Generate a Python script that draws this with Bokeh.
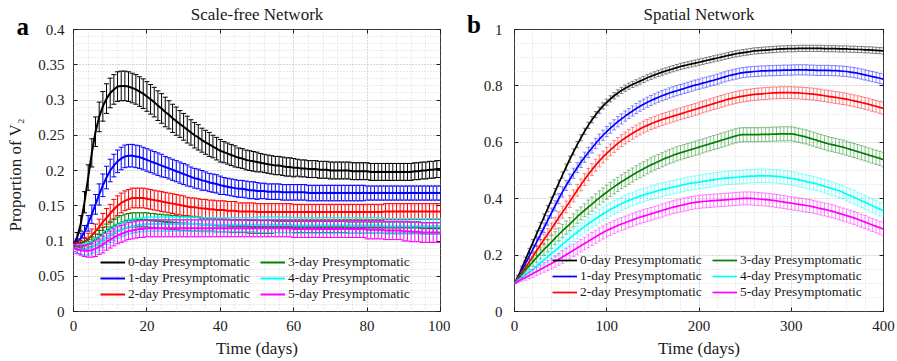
import math
from bokeh.plotting import figure
from bokeh.layouts import row
from bokeh.models import (Range1d, SingleIntervalTicker, NumeralTickFormatter, LinearAxis,
                          ColumnDataSource, Legend, LegendItem, Label)
from bokeh.embed import file_html
from bokeh.resources import INLINE

FONT = "Liberation Serif"
TXT = "#1a1a1a"

series_labels = ["0-day Presymptomatic", "1-day Presymptomatic", "2-day Presymptomatic",
                 "3-day Presymptomatic", "4-day Presymptomatic", "5-day Presymptomatic"]
series_colors = ["#000000", "#0000ff", "#ff0000", "#008000", "#00ffff", "#ff00ff"]

# ---------------- Panel a: Scale-free network (daily, 0..100) ----------------
left_days = list(range(0, 101))

left_mean_0 = [
    0.095, 0.105, 0.125, 0.155, 0.190, 0.225, 0.255, 0.276, 0.291, 0.302,
    0.310, 0.315, 0.319, 0.320, 0.320, 0.319, 0.317, 0.315, 0.312, 0.309,
    0.305, 0.301, 0.297, 0.292, 0.288, 0.283, 0.279, 0.274, 0.270, 0.266,
    0.262, 0.258, 0.254, 0.250, 0.247, 0.243, 0.240, 0.237, 0.234, 0.231,
    0.228, 0.226, 0.224, 0.222, 0.220, 0.218, 0.217, 0.215, 0.214, 0.213,
    0.212, 0.211, 0.210, 0.209, 0.208, 0.207, 0.207, 0.206, 0.205, 0.205,
    0.204, 0.204, 0.203, 0.203, 0.202, 0.202, 0.202, 0.201, 0.201, 0.201,
    0.200, 0.200, 0.200, 0.200, 0.200, 0.200, 0.199, 0.199, 0.199, 0.199,
    0.199, 0.198, 0.198, 0.198, 0.198, 0.198, 0.198, 0.198, 0.198, 0.198,
    0.198, 0.198, 0.198, 0.199, 0.199, 0.200, 0.200, 0.201, 0.201, 0.202,
    0.202]
left_err_0 = [
    0.004, 0.007, 0.011, 0.015, 0.018, 0.020, 0.021, 0.021, 0.021, 0.021,
    0.021, 0.021, 0.021, 0.021, 0.021, 0.021, 0.021, 0.021, 0.021, 0.021,
    0.021, 0.021, 0.021, 0.021, 0.021, 0.021, 0.020, 0.020, 0.020, 0.019,
    0.019, 0.019, 0.018, 0.018, 0.018, 0.017, 0.017, 0.017, 0.016, 0.016,
    0.016, 0.015, 0.015, 0.015, 0.015, 0.014, 0.014, 0.014, 0.014, 0.014,
    0.014, 0.013, 0.013, 0.013, 0.013, 0.013, 0.013, 0.013, 0.013, 0.013,
    0.013, 0.012, 0.012, 0.012, 0.012, 0.012, 0.012, 0.012, 0.012, 0.012,
    0.012, 0.012, 0.012, 0.012, 0.012, 0.012, 0.012, 0.012, 0.012, 0.012,
    0.012, 0.012, 0.012, 0.012, 0.012, 0.012, 0.012, 0.012, 0.012, 0.012,
    0.012, 0.012, 0.012, 0.012, 0.012, 0.012, 0.012, 0.012, 0.012, 0.012,
    0.012]

left_mean_1 = [
    0.095, 0.098, 0.104, 0.113, 0.125, 0.138, 0.152, 0.166, 0.179, 0.190,
    0.200, 0.207, 0.213, 0.217, 0.220, 0.221, 0.221, 0.220, 0.219, 0.217,
    0.215, 0.213, 0.211, 0.209, 0.207, 0.205, 0.203, 0.201, 0.199, 0.197,
    0.195, 0.193, 0.191, 0.189, 0.188, 0.186, 0.185, 0.183, 0.182, 0.181,
    0.179, 0.178, 0.177, 0.176, 0.175, 0.174, 0.174, 0.173, 0.172, 0.172,
    0.171, 0.171, 0.171, 0.170, 0.170, 0.170, 0.170, 0.169, 0.169, 0.169,
    0.169, 0.169, 0.169, 0.169, 0.168, 0.168, 0.168, 0.168, 0.168, 0.168,
    0.168, 0.168, 0.168, 0.168, 0.168, 0.168, 0.168, 0.168, 0.168, 0.168,
    0.168, 0.168, 0.168, 0.168, 0.168, 0.168, 0.168, 0.168, 0.168, 0.168,
    0.168, 0.168, 0.168, 0.168, 0.168, 0.168, 0.168, 0.168, 0.168, 0.168,
    0.168]
left_err_1 = [
    0.003, 0.005, 0.007, 0.009, 0.011, 0.013, 0.014, 0.015, 0.016, 0.016,
    0.016, 0.016, 0.016, 0.016, 0.016, 0.016, 0.016, 0.016, 0.016, 0.016,
    0.016, 0.016, 0.016, 0.016, 0.016, 0.015, 0.015, 0.015, 0.015, 0.015,
    0.015, 0.015, 0.014, 0.014, 0.014, 0.014, 0.013, 0.013, 0.013, 0.013,
    0.013, 0.012, 0.012, 0.012, 0.012, 0.012, 0.012, 0.012, 0.012, 0.012,
    0.012, 0.011, 0.011, 0.011, 0.011, 0.011, 0.011, 0.011, 0.011, 0.011,
    0.011, 0.011, 0.011, 0.011, 0.011, 0.011, 0.011, 0.011, 0.011, 0.011,
    0.011, 0.011, 0.011, 0.011, 0.011, 0.011, 0.011, 0.011, 0.011, 0.011,
    0.010, 0.010, 0.010, 0.010, 0.010, 0.010, 0.010, 0.010, 0.010, 0.010,
    0.010, 0.010, 0.010, 0.010, 0.010, 0.010, 0.010, 0.010, 0.010, 0.010,
    0.010]

left_mean_2 = [
    0.093, 0.094, 0.096, 0.099, 0.103, 0.108, 0.114, 0.120, 0.127, 0.133,
    0.139, 0.145, 0.150, 0.154, 0.157, 0.159, 0.161, 0.161, 0.161, 0.161,
    0.160, 0.159, 0.158, 0.157, 0.156, 0.155, 0.154, 0.153, 0.152, 0.151,
    0.150, 0.149, 0.148, 0.148, 0.147, 0.146, 0.146, 0.145, 0.145, 0.144,
    0.144, 0.144, 0.143, 0.143, 0.143, 0.142, 0.142, 0.142, 0.142, 0.142,
    0.141, 0.141, 0.141, 0.141, 0.141, 0.141, 0.141, 0.141, 0.141, 0.141,
    0.141, 0.141, 0.141, 0.141, 0.141, 0.141, 0.141, 0.141, 0.141, 0.141,
    0.141, 0.141, 0.141, 0.141, 0.141, 0.141, 0.141, 0.141, 0.141, 0.141,
    0.141, 0.141, 0.141, 0.141, 0.141, 0.142, 0.142, 0.142, 0.142, 0.142,
    0.142, 0.142, 0.142, 0.142, 0.142, 0.142, 0.142, 0.142, 0.142, 0.142,
    0.142]
left_err_2 = [
    0.003, 0.004, 0.005, 0.006, 0.008, 0.009, 0.010, 0.011, 0.012, 0.013,
    0.013, 0.014, 0.014, 0.014, 0.014, 0.014, 0.014, 0.014, 0.014, 0.014,
    0.014, 0.014, 0.014, 0.014, 0.014, 0.014, 0.014, 0.014, 0.014, 0.014,
    0.014, 0.013, 0.013, 0.013, 0.013, 0.013, 0.013, 0.013, 0.013, 0.013,
    0.013, 0.013, 0.013, 0.013, 0.013, 0.012, 0.012, 0.012, 0.012, 0.012,
    0.012, 0.012, 0.012, 0.012, 0.012, 0.012, 0.012, 0.012, 0.012, 0.012,
    0.011, 0.011, 0.011, 0.011, 0.011, 0.011, 0.011, 0.011, 0.011, 0.011,
    0.011, 0.011, 0.011, 0.011, 0.011, 0.011, 0.011, 0.011, 0.011, 0.011,
    0.011, 0.011, 0.011, 0.011, 0.011, 0.011, 0.011, 0.011, 0.011, 0.011,
    0.011, 0.011, 0.011, 0.011, 0.011, 0.011, 0.011, 0.011, 0.011, 0.011,
    0.011]

left_mean_3 = [
    0.092, 0.092, 0.093, 0.094, 0.096, 0.099, 0.102, 0.106, 0.110, 0.114,
    0.118, 0.121, 0.124, 0.126, 0.128, 0.129, 0.130, 0.130, 0.130, 0.130,
    0.130, 0.129, 0.129, 0.128, 0.128, 0.127, 0.127, 0.126, 0.126, 0.125,
    0.125, 0.125, 0.124, 0.124, 0.124, 0.123, 0.123, 0.123, 0.123, 0.122,
    0.122, 0.122, 0.122, 0.121, 0.121, 0.121, 0.121, 0.121, 0.120, 0.120,
    0.120, 0.120, 0.120, 0.120, 0.120, 0.120, 0.120, 0.120, 0.120, 0.120,
    0.120, 0.120, 0.120, 0.120, 0.120, 0.120, 0.120, 0.120, 0.120, 0.120,
    0.120, 0.120, 0.120, 0.120, 0.120, 0.119, 0.119, 0.119, 0.119, 0.119,
    0.119, 0.119, 0.119, 0.119, 0.119, 0.119, 0.119, 0.119, 0.119, 0.119,
    0.119, 0.119, 0.119, 0.119, 0.119, 0.118, 0.118, 0.118, 0.118, 0.118,
    0.118]
left_err_3 = [
    0.003, 0.003, 0.004, 0.005, 0.006, 0.007, 0.008, 0.009, 0.009, 0.010,
    0.010, 0.010, 0.010, 0.010, 0.010, 0.010, 0.010, 0.010, 0.010, 0.010,
    0.010, 0.010, 0.010, 0.010, 0.010, 0.010, 0.010, 0.010, 0.010, 0.010,
    0.010, 0.010, 0.010, 0.010, 0.010, 0.009, 0.009, 0.009, 0.009, 0.009,
    0.009, 0.009, 0.009, 0.009, 0.009, 0.009, 0.009, 0.009, 0.009, 0.009,
    0.009, 0.009, 0.009, 0.009, 0.009, 0.008, 0.008, 0.008, 0.008, 0.008,
    0.008, 0.008, 0.008, 0.008, 0.008, 0.008, 0.008, 0.008, 0.008, 0.008,
    0.008, 0.008, 0.008, 0.008, 0.008, 0.008, 0.008, 0.008, 0.008, 0.008,
    0.008, 0.008, 0.008, 0.008, 0.008, 0.008, 0.008, 0.008, 0.008, 0.008,
    0.008, 0.008, 0.008, 0.008, 0.008, 0.008, 0.008, 0.008, 0.008, 0.008,
    0.008]

left_mean_4 = [
    0.090, 0.089, 0.088, 0.088, 0.089, 0.091, 0.094, 0.097, 0.101, 0.105,
    0.108, 0.111, 0.114, 0.116, 0.118, 0.120, 0.121, 0.122, 0.123, 0.123,
    0.124, 0.124, 0.124, 0.124, 0.124, 0.124, 0.124, 0.124, 0.124, 0.124,
    0.124, 0.124, 0.124, 0.124, 0.124, 0.123, 0.123, 0.123, 0.123, 0.123,
    0.123, 0.123, 0.123, 0.123, 0.123, 0.123, 0.123, 0.123, 0.123, 0.123,
    0.123, 0.123, 0.123, 0.123, 0.123, 0.123, 0.123, 0.123, 0.123, 0.123,
    0.122, 0.122, 0.122, 0.122, 0.122, 0.122, 0.122, 0.122, 0.122, 0.122,
    0.122, 0.122, 0.122, 0.122, 0.122, 0.122, 0.122, 0.122, 0.122, 0.122,
    0.122, 0.122, 0.122, 0.122, 0.122, 0.121, 0.121, 0.121, 0.121, 0.121,
    0.121, 0.121, 0.121, 0.121, 0.121, 0.121, 0.121, 0.121, 0.121, 0.121,
    0.121]
left_err_4 = [
    0.005, 0.006, 0.007, 0.008, 0.009, 0.009, 0.010, 0.010, 0.010, 0.010,
    0.010, 0.010, 0.010, 0.010, 0.010, 0.010, 0.010, 0.010, 0.010, 0.010,
    0.010, 0.010, 0.010, 0.010, 0.010, 0.010, 0.010, 0.010, 0.010, 0.010,
    0.010, 0.010, 0.010, 0.010, 0.010, 0.010, 0.010, 0.010, 0.010, 0.010,
    0.010, 0.010, 0.010, 0.010, 0.010, 0.010, 0.010, 0.010, 0.010, 0.010,
    0.011, 0.011, 0.011, 0.011, 0.011, 0.011, 0.011, 0.011, 0.011, 0.011,
    0.011, 0.011, 0.011, 0.011, 0.011, 0.011, 0.011, 0.011, 0.011, 0.011,
    0.011, 0.011, 0.011, 0.011, 0.011, 0.011, 0.011, 0.011, 0.011, 0.011,
    0.011, 0.011, 0.011, 0.011, 0.011, 0.011, 0.011, 0.011, 0.011, 0.011,
    0.011, 0.011, 0.011, 0.011, 0.011, 0.011, 0.011, 0.011, 0.011, 0.011,
    0.011]

left_mean_5 = [
    0.090, 0.088, 0.087, 0.086, 0.086, 0.087, 0.089, 0.092, 0.095, 0.099,
    0.102, 0.105, 0.108, 0.110, 0.112, 0.114, 0.115, 0.116, 0.117, 0.117,
    0.118, 0.118, 0.118, 0.118, 0.118, 0.118, 0.118, 0.118, 0.118, 0.118,
    0.118, 0.118, 0.118, 0.118, 0.118, 0.118, 0.118, 0.118, 0.118, 0.118,
    0.118, 0.118, 0.118, 0.118, 0.118, 0.118, 0.118, 0.118, 0.118, 0.118,
    0.118, 0.118, 0.118, 0.118, 0.118, 0.118, 0.118, 0.118, 0.118, 0.118,
    0.117, 0.117, 0.117, 0.117, 0.117, 0.117, 0.117, 0.117, 0.117, 0.117,
    0.117, 0.117, 0.117, 0.117, 0.117, 0.117, 0.117, 0.117, 0.117, 0.117,
    0.116, 0.116, 0.116, 0.116, 0.116, 0.115, 0.115, 0.115, 0.115, 0.115,
    0.114, 0.114, 0.113, 0.113, 0.113, 0.112, 0.112, 0.112, 0.112, 0.112,
    0.112]
left_err_5 = [
    0.005, 0.006, 0.007, 0.008, 0.009, 0.010, 0.011, 0.011, 0.012, 0.012,
    0.012, 0.012, 0.012, 0.012, 0.012, 0.012, 0.012, 0.012, 0.012, 0.012,
    0.012, 0.012, 0.012, 0.012, 0.012, 0.012, 0.012, 0.012, 0.012, 0.012,
    0.012, 0.012, 0.012, 0.012, 0.012, 0.012, 0.012, 0.012, 0.012, 0.012,
    0.012, 0.012, 0.012, 0.012, 0.012, 0.012, 0.012, 0.012, 0.012, 0.012,
    0.012, 0.012, 0.012, 0.012, 0.012, 0.012, 0.012, 0.012, 0.012, 0.012,
    0.012, 0.012, 0.012, 0.012, 0.012, 0.012, 0.012, 0.012, 0.012, 0.012,
    0.012, 0.012, 0.012, 0.012, 0.012, 0.012, 0.012, 0.012, 0.012, 0.012,
    0.013, 0.013, 0.013, 0.013, 0.013, 0.013, 0.013, 0.013, 0.013, 0.013,
    0.014, 0.014, 0.014, 0.014, 0.014, 0.014, 0.014, 0.014, 0.014, 0.014,
    0.014]

# ---------------- Panel b: Spatial network (every 4 days, 0..400) ----------------
right_days = list(range(0, 401, 4))

right_mean_0 = [
    0.100, 0.125, 0.155, 0.185, 0.215, 0.245, 0.275, 0.305, 0.335, 0.365,
    0.395, 0.425, 0.455, 0.484, 0.512, 0.540, 0.566, 0.592, 0.616, 0.639,
    0.660, 0.680, 0.698, 0.714, 0.729, 0.742, 0.754, 0.765, 0.775, 0.784,
    0.792, 0.799, 0.805, 0.811, 0.817, 0.823, 0.829, 0.834, 0.839, 0.844,
    0.849, 0.853, 0.857, 0.861, 0.865, 0.869, 0.872, 0.875, 0.878, 0.881,
    0.884, 0.887, 0.890, 0.893, 0.896, 0.899, 0.902, 0.905, 0.908, 0.911,
    0.914, 0.916, 0.918, 0.920, 0.922, 0.924, 0.925, 0.926, 0.927, 0.928,
    0.929, 0.930, 0.931, 0.931, 0.932, 0.932, 0.932, 0.933, 0.933, 0.933,
    0.933, 0.933, 0.933, 0.933, 0.932, 0.932, 0.932, 0.932, 0.931, 0.931,
    0.931, 0.930, 0.930, 0.929, 0.929, 0.928, 0.928, 0.927, 0.926, 0.925,
    0.924]
right_err_0 = [
    0.000, 0.004, 0.006, 0.008, 0.009, 0.010, 0.011, 0.011, 0.011, 0.011,
    0.011, 0.011, 0.011, 0.011, 0.011, 0.011, 0.011, 0.011, 0.011, 0.011,
    0.011, 0.011, 0.011, 0.011, 0.011, 0.011, 0.011, 0.011, 0.011, 0.011,
    0.011, 0.011, 0.011, 0.011, 0.011, 0.011, 0.011, 0.011, 0.011, 0.011,
    0.011, 0.011, 0.011, 0.011, 0.011, 0.011, 0.011, 0.011, 0.011, 0.011,
    0.011, 0.011, 0.011, 0.011, 0.011, 0.011, 0.011, 0.011, 0.011, 0.011,
    0.011, 0.011, 0.011, 0.011, 0.011, 0.011, 0.011, 0.011, 0.011, 0.011,
    0.011, 0.011, 0.011, 0.011, 0.011, 0.011, 0.011, 0.011, 0.011, 0.011,
    0.011, 0.011, 0.011, 0.011, 0.011, 0.011, 0.011, 0.011, 0.011, 0.011,
    0.011, 0.011, 0.011, 0.011, 0.011, 0.011, 0.011, 0.011, 0.011, 0.011,
    0.011]

right_mean_1 = [
    0.100, 0.122, 0.146, 0.171, 0.196, 0.221, 0.246, 0.271, 0.297, 0.323,
    0.349, 0.375, 0.400, 0.424, 0.447, 0.469, 0.490, 0.510, 0.529, 0.547,
    0.564, 0.580, 0.596, 0.611, 0.625, 0.638, 0.650, 0.662, 0.673, 0.683,
    0.693, 0.702, 0.711, 0.720, 0.728, 0.735, 0.742, 0.748, 0.754, 0.760,
    0.765, 0.770, 0.775, 0.779, 0.783, 0.787, 0.791, 0.795, 0.799, 0.803,
    0.806, 0.810, 0.813, 0.817, 0.820, 0.824, 0.828, 0.832, 0.836, 0.839,
    0.842, 0.845, 0.847, 0.849, 0.850, 0.851, 0.852, 0.853, 0.853, 0.854,
    0.854, 0.855, 0.855, 0.856, 0.856, 0.856, 0.857, 0.857, 0.857, 0.857,
    0.856, 0.856, 0.855, 0.855, 0.855, 0.855, 0.854, 0.854, 0.853, 0.852,
    0.851, 0.849, 0.847, 0.845, 0.842, 0.839, 0.836, 0.833, 0.830, 0.827,
    0.824]
right_err_1 = [
    0.000, 0.005, 0.008, 0.010, 0.012, 0.014, 0.015, 0.016, 0.017, 0.017,
    0.018, 0.018, 0.018, 0.018, 0.018, 0.018, 0.018, 0.018, 0.018, 0.018,
    0.018, 0.018, 0.018, 0.018, 0.018, 0.018, 0.018, 0.018, 0.018, 0.018,
    0.018, 0.018, 0.018, 0.018, 0.018, 0.018, 0.018, 0.018, 0.018, 0.018,
    0.018, 0.018, 0.018, 0.018, 0.018, 0.018, 0.018, 0.018, 0.018, 0.018,
    0.018, 0.018, 0.018, 0.018, 0.018, 0.018, 0.018, 0.018, 0.018, 0.018,
    0.018, 0.018, 0.018, 0.018, 0.018, 0.018, 0.018, 0.018, 0.018, 0.018,
    0.018, 0.018, 0.018, 0.018, 0.018, 0.018, 0.018, 0.018, 0.018, 0.018,
    0.018, 0.018, 0.018, 0.018, 0.018, 0.018, 0.018, 0.018, 0.018, 0.018,
    0.018, 0.018, 0.018, 0.018, 0.018, 0.018, 0.018, 0.018, 0.018, 0.018,
    0.018]

right_mean_2 = [
    0.100, 0.118, 0.137, 0.156, 0.176, 0.196, 0.216, 0.236, 0.255, 0.274,
    0.293, 0.313, 0.333, 0.352, 0.371, 0.390, 0.410, 0.430, 0.449, 0.468,
    0.486, 0.503, 0.519, 0.534, 0.548, 0.561, 0.573, 0.585, 0.596, 0.606,
    0.615, 0.624, 0.632, 0.640, 0.647, 0.654, 0.660, 0.666, 0.671, 0.676,
    0.681, 0.685, 0.689, 0.693, 0.697, 0.701, 0.705, 0.709, 0.713, 0.717,
    0.721, 0.725, 0.729, 0.733, 0.737, 0.741, 0.745, 0.749, 0.753, 0.756,
    0.759, 0.762, 0.764, 0.766, 0.768, 0.770, 0.771, 0.772, 0.773, 0.774,
    0.775, 0.775, 0.776, 0.776, 0.776, 0.776, 0.775, 0.775, 0.774, 0.773,
    0.772, 0.771, 0.769, 0.767, 0.765, 0.763, 0.761, 0.759, 0.757, 0.755,
    0.753, 0.750, 0.747, 0.744, 0.741, 0.738, 0.735, 0.731, 0.728, 0.724,
    0.720]
right_err_2 = [
    0.000, 0.005, 0.009, 0.012, 0.014, 0.016, 0.017, 0.018, 0.019, 0.020,
    0.021, 0.021, 0.021, 0.021, 0.021, 0.021, 0.021, 0.021, 0.021, 0.021,
    0.021, 0.021, 0.021, 0.021, 0.021, 0.021, 0.021, 0.021, 0.021, 0.021,
    0.021, 0.021, 0.021, 0.021, 0.021, 0.021, 0.021, 0.021, 0.021, 0.021,
    0.021, 0.021, 0.021, 0.021, 0.021, 0.021, 0.021, 0.021, 0.021, 0.021,
    0.021, 0.021, 0.021, 0.021, 0.021, 0.021, 0.021, 0.021, 0.021, 0.021,
    0.021, 0.021, 0.021, 0.021, 0.021, 0.021, 0.021, 0.021, 0.021, 0.021,
    0.021, 0.021, 0.021, 0.021, 0.021, 0.021, 0.021, 0.021, 0.021, 0.021,
    0.021, 0.021, 0.021, 0.021, 0.021, 0.021, 0.021, 0.021, 0.021, 0.021,
    0.021, 0.021, 0.021, 0.021, 0.021, 0.021, 0.021, 0.021, 0.021, 0.021,
    0.021]

right_mean_3 = [
    0.100, 0.115, 0.131, 0.147, 0.162, 0.177, 0.192, 0.206, 0.220, 0.233,
    0.246, 0.260, 0.273, 0.286, 0.298, 0.310, 0.323, 0.336, 0.348, 0.359,
    0.370, 0.381, 0.392, 0.403, 0.413, 0.423, 0.433, 0.442, 0.451, 0.460,
    0.468, 0.476, 0.484, 0.492, 0.499, 0.506, 0.513, 0.520, 0.526, 0.532,
    0.538, 0.544, 0.549, 0.554, 0.559, 0.563, 0.567, 0.571, 0.575, 0.579,
    0.583, 0.587, 0.591, 0.595, 0.599, 0.603, 0.607, 0.611, 0.615, 0.619,
    0.623, 0.626, 0.627, 0.627, 0.627, 0.627, 0.627, 0.628, 0.628, 0.628,
    0.629, 0.629, 0.630, 0.630, 0.630, 0.630, 0.628, 0.625, 0.622, 0.619,
    0.615, 0.611, 0.607, 0.603, 0.599, 0.595, 0.592, 0.589, 0.586, 0.583,
    0.579, 0.575, 0.571, 0.567, 0.563, 0.559, 0.555, 0.551, 0.547, 0.543,
    0.538]
right_err_3 = [
    0.000, 0.005, 0.009, 0.012, 0.015, 0.017, 0.019, 0.020, 0.021, 0.022,
    0.023, 0.023, 0.023, 0.023, 0.023, 0.023, 0.023, 0.023, 0.023, 0.023,
    0.025, 0.025, 0.025, 0.025, 0.025, 0.025, 0.025, 0.025, 0.025, 0.025,
    0.025, 0.025, 0.025, 0.025, 0.025, 0.025, 0.025, 0.025, 0.025, 0.025,
    0.025, 0.025, 0.025, 0.025, 0.025, 0.025, 0.025, 0.025, 0.025, 0.025,
    0.025, 0.025, 0.025, 0.025, 0.025, 0.025, 0.025, 0.025, 0.025, 0.025,
    0.025, 0.025, 0.025, 0.025, 0.025, 0.025, 0.025, 0.025, 0.025, 0.025,
    0.025, 0.025, 0.025, 0.025, 0.025, 0.025, 0.025, 0.025, 0.025, 0.025,
    0.025, 0.025, 0.025, 0.025, 0.025, 0.025, 0.025, 0.025, 0.025, 0.025,
    0.025, 0.025, 0.025, 0.025, 0.025, 0.025, 0.025, 0.025, 0.025, 0.025,
    0.025]

right_mean_4 = [
    0.100, 0.110, 0.120, 0.130, 0.140, 0.150, 0.161, 0.172, 0.183, 0.194,
    0.205, 0.216, 0.227, 0.238, 0.249, 0.260, 0.271, 0.281, 0.291, 0.301,
    0.311, 0.320, 0.329, 0.338, 0.346, 0.354, 0.362, 0.369, 0.376, 0.382,
    0.388, 0.394, 0.399, 0.404, 0.409, 0.413, 0.417, 0.421, 0.425, 0.429,
    0.432, 0.435, 0.438, 0.441, 0.444, 0.447, 0.450, 0.453, 0.455, 0.457,
    0.459, 0.461, 0.463, 0.465, 0.467, 0.469, 0.471, 0.473, 0.474, 0.475,
    0.476, 0.477, 0.478, 0.479, 0.480, 0.480, 0.481, 0.481, 0.481, 0.481,
    0.480, 0.479, 0.478, 0.476, 0.474, 0.472, 0.470, 0.467, 0.464, 0.461,
    0.458, 0.455, 0.452, 0.448, 0.444, 0.440, 0.436, 0.432, 0.428, 0.423,
    0.416, 0.411, 0.405, 0.399, 0.393, 0.387, 0.381, 0.375, 0.369, 0.363,
    0.357]
right_err_4 = [
    0.000, 0.004, 0.008, 0.011, 0.013, 0.015, 0.017, 0.018, 0.019, 0.020,
    0.021, 0.022, 0.023, 0.023, 0.023, 0.023, 0.023, 0.023, 0.023, 0.023,
    0.024, 0.024, 0.024, 0.024, 0.024, 0.024, 0.024, 0.024, 0.024, 0.024,
    0.024, 0.024, 0.024, 0.024, 0.024, 0.024, 0.024, 0.024, 0.024, 0.024,
    0.024, 0.024, 0.024, 0.024, 0.024, 0.024, 0.024, 0.024, 0.024, 0.024,
    0.024, 0.024, 0.024, 0.024, 0.024, 0.024, 0.024, 0.024, 0.024, 0.024,
    0.024, 0.024, 0.024, 0.024, 0.024, 0.024, 0.024, 0.024, 0.024, 0.024,
    0.024, 0.024, 0.024, 0.024, 0.024, 0.024, 0.024, 0.024, 0.024, 0.024,
    0.024, 0.024, 0.024, 0.024, 0.024, 0.024, 0.024, 0.024, 0.024, 0.024,
    0.024, 0.024, 0.024, 0.024, 0.024, 0.024, 0.024, 0.024, 0.024, 0.024,
    0.024]

right_mean_5 = [
    0.100, 0.107, 0.114, 0.121, 0.128, 0.135, 0.142, 0.149, 0.156, 0.163,
    0.170, 0.177, 0.185, 0.193, 0.201, 0.209, 0.217, 0.225, 0.233, 0.241,
    0.249, 0.257, 0.265, 0.273, 0.280, 0.287, 0.293, 0.299, 0.305, 0.310,
    0.315, 0.320, 0.325, 0.330, 0.334, 0.338, 0.342, 0.346, 0.350, 0.354,
    0.358, 0.362, 0.366, 0.370, 0.373, 0.376, 0.379, 0.382, 0.385, 0.387,
    0.389, 0.390, 0.391, 0.392, 0.393, 0.394, 0.395, 0.396, 0.397, 0.398,
    0.399, 0.400, 0.401, 0.401, 0.401, 0.400, 0.399, 0.398, 0.397, 0.396,
    0.394, 0.392, 0.390, 0.388, 0.386, 0.384, 0.382, 0.380, 0.378, 0.376,
    0.374, 0.371, 0.368, 0.365, 0.362, 0.359, 0.356, 0.352, 0.348, 0.344,
    0.340, 0.336, 0.332, 0.327, 0.322, 0.317, 0.312, 0.307, 0.302, 0.297,
    0.292]
right_err_5 = [
    0.000, 0.004, 0.007, 0.010, 0.012, 0.014, 0.015, 0.016, 0.017, 0.018,
    0.019, 0.020, 0.021, 0.022, 0.022, 0.022, 0.022, 0.022, 0.022, 0.022,
    0.023, 0.023, 0.023, 0.023, 0.023, 0.023, 0.023, 0.023, 0.023, 0.023,
    0.023, 0.023, 0.023, 0.023, 0.023, 0.023, 0.023, 0.023, 0.023, 0.023,
    0.023, 0.023, 0.023, 0.023, 0.023, 0.023, 0.023, 0.023, 0.023, 0.023,
    0.023, 0.023, 0.023, 0.023, 0.023, 0.023, 0.023, 0.023, 0.023, 0.023,
    0.023, 0.023, 0.023, 0.023, 0.023, 0.023, 0.023, 0.023, 0.023, 0.023,
    0.023, 0.023, 0.023, 0.023, 0.023, 0.023, 0.023, 0.023, 0.023, 0.023,
    0.023, 0.023, 0.023, 0.023, 0.023, 0.023, 0.023, 0.023, 0.023, 0.023,
    0.023, 0.023, 0.023, 0.023, 0.023, 0.023, 0.023, 0.023, 0.023, 0.023,
    0.023]

left_means = [left_mean_0, left_mean_1, left_mean_2, left_mean_3, left_mean_4, left_mean_5]
left_errs = [left_err_0, left_err_1, left_err_2, left_err_3, left_err_4, left_err_5]
right_means = [right_mean_0, right_mean_1, right_mean_2, right_mean_3, right_mean_4, right_mean_5]
right_errs = [right_err_0, right_err_1, right_err_2, right_err_3, right_err_4, right_err_5]


def build_panel(title, days, means, errs, x_end, y_end, x_int, y_int, y_minor, y_fmt,
                width, borders, legend_loc, bar_alpha, cap, line_w, panel_letter,
                letter_data, y_label=None, y_label_data=None, y_standoff=6):
    left, right, top, bottom = borders
    p = figure(width=width, height=361, x_range=Range1d(0, x_end), y_range=Range1d(0, y_end),
               output_backend="svg", toolbar_location=None, title=title,
               min_border_left=left, min_border_right=right,
               min_border_top=top, min_border_bottom=bottom)
    p.background_fill_color = "white"
    p.border_fill_color = "white"
    p.outline_line_color = "#3a3a3a"
    p.outline_line_width = 1

    p.title.text_font = FONT
    p.title.text_font_size = "17px"
    p.title.text_font_style = "normal"
    p.title.text_color = TXT
    p.title.align = "center"
    p.title.standoff = 4

    xt = SingleIntervalTicker(interval=x_int, num_minor_ticks=5)
    yt = SingleIntervalTicker(interval=y_int, num_minor_ticks=y_minor)
    p.xaxis.ticker = xt
    p.yaxis.ticker = yt
    p.xgrid.ticker = xt
    p.ygrid.ticker = yt
    p.yaxis.formatter = NumeralTickFormatter(format=y_fmt)

    for ax in (p.xaxis[0], p.yaxis[0]):
        ax.axis_line_color = None
        ax.major_tick_in = 4
        ax.major_tick_out = 0
        ax.major_tick_line_color = TXT
        ax.minor_tick_line_color = None
        ax.major_label_text_font = FONT
        ax.major_label_text_font_size = "15px"
        ax.major_label_text_color = TXT
        ax.axis_label_text_font = FONT
        ax.axis_label_text_font_size = "17px"
        ax.axis_label_text_font_style = "normal"
        ax.axis_label_text_color = TXT
    p.xaxis.axis_label = "Time (days)"
    p.xaxis.major_label_standoff = 5
    p.xaxis.axis_label_standoff = 5
    p.yaxis.major_label_standoff = y_standoff

    # tick marks on the top and right edges of the box (no labels)
    top_ax = LinearAxis(ticker=xt, axis_line_color=None, major_tick_in=4, major_tick_out=0,
                        major_tick_line_color=TXT, minor_tick_line_color=None,
                        major_label_text_font_size="1px", major_label_text_color=None,
                        major_label_standoff=0)
    right_ax = LinearAxis(ticker=yt, axis_line_color=None, major_tick_in=4, major_tick_out=0,
                          major_tick_line_color=TXT, minor_tick_line_color=None,
                          major_label_text_font_size="1px", major_label_text_color=None,
                          major_label_standoff=0)
    p.add_layout(top_ax, "above")
    p.add_layout(right_ax, "right")

    for g in (p.xgrid[0], p.ygrid[0]):
        g.grid_line_color = "#c4c4c4"
        g.grid_line_dash = "1 2"
        g.grid_line_width = 1
        g.minor_grid_line_color = "#d6d6d6"
        g.minor_grid_line_dash = "1 2"
        g.minor_grid_line_width = 1

    items = []
    for m, e, c, lab in zip(means, errs, series_colors, series_labels):
        up = [a + b for a, b in zip(m, e)]
        lo = [a - b for a, b in zip(m, e)]
        src = ColumnDataSource(dict(x=days, m=m, up=up, lo=lo))
        p.segment(x0="x", y0="lo", x1="x", y1="up", source=src, line_color=c,
                  line_width=1, line_alpha=bar_alpha)
        p.scatter(x="x", y="up", marker="dash", size=cap, source=src, line_color=c,
                  line_width=1, line_alpha=bar_alpha)
        p.scatter(x="x", y="lo", marker="dash", size=cap, source=src, line_color=c,
                  line_width=1, line_alpha=bar_alpha)
        mean_line = p.line(x="x", y="m", source=src, line_color=c, line_width=line_w)
        items.append(LegendItem(label=lab, renderers=[mean_line]))

    leg = Legend(items=items, location=legend_loc, orientation="vertical", ncols=2,
                 padding=0, margin=0, spacing=0, glyph_width=25, glyph_height=16,
                 label_height=16, label_width=132, label_standoff=3,
                 border_line_color=None, background_fill_alpha=0,
                 label_text_font=FONT, label_text_font_size="13.5px", label_text_color=TXT)
    p.add_layout(leg)

    # texts outside the frame live in the left side panel (not clipped there)
    if y_label:
        ylab = Label(x=y_label_data[0], y=y_label_data[1], x_units="data", y_units="data",
                     text=y_label, angle=math.pi / 2, text_font=FONT, text_font_size="17px",
                     text_color=TXT, text_align="center", text_baseline="middle")
        p.add_layout(ylab, "left")
    letter = Label(x=letter_data[0], y=letter_data[1], x_units="data", y_units="data",
                   text=panel_letter, text_font=FONT, text_font_size="25px",
                   text_font_style="bold", text_color="black", text_baseline="alphabetic")
    p.add_layout(letter, "left")
    return p


p1 = build_panel("Scale-free Network", left_days, left_means, left_errs, 100, 0.4, 20, 0.05, 5,
                 "0.[00]", 450, (73, 10, 27, 50), (27, 9), 1.0, 5, 2.0, "a",
                 (-15.5, 0.404), y_label="Proportion of V\u2082", y_label_data=(-15.8, 0.194),
                 y_standoff=5)
p2 = build_panel("Spatial Network", right_days, right_means, right_errs, 400, 1.0, 100, 0.2, 4,
                 "0.[0]", 447, (64, 14, 29, 48), (38, 11), 0.45, 4, 1.7, "b",
                 (-51.4, 1.019), y_standoff=8)

layout = row(p1, p2)
with open("out.html", "w") as f:
    f.write(file_html(layout, INLINE))
